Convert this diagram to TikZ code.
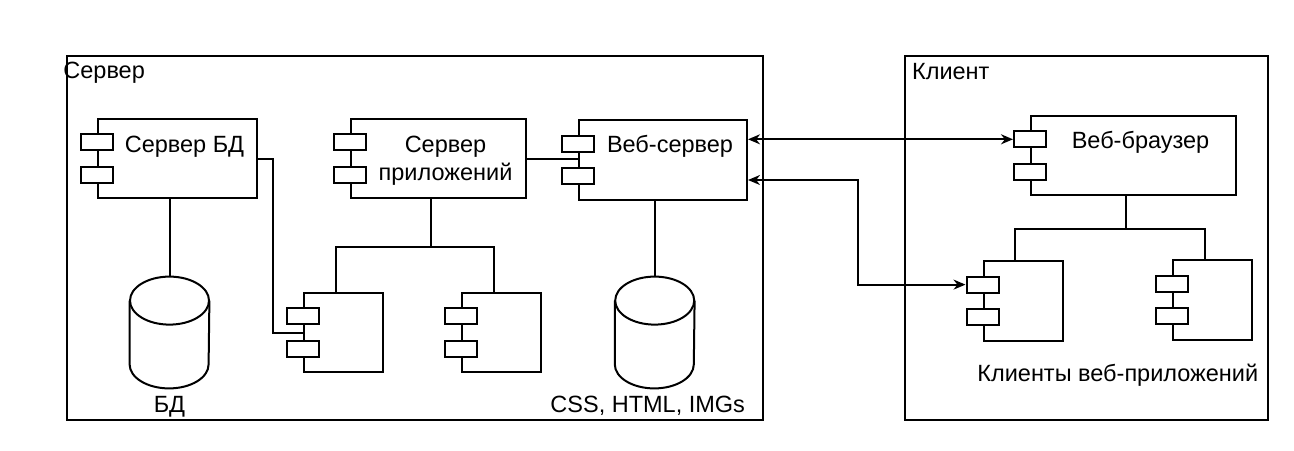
\documentclass[tikz,border=0pt]{standalone}
\usepackage{fontspec}
\setmainfont{Liberation Sans}
\usetikzlibrary{arrows.meta,calc}
\tikzset{>={Stealth[length=6pt,width=5pt]}}
\tikzset{%
    txt/.style={font=\fontsize{11.75}{14}\selectfont, inner sep=0pt},
    frame/.style={draw, line width=1pt, inner sep=0pt},
    comp/.style={draw, line width=1pt, inner sep=0pt},
    port/.style={draw, line width=1pt, fill=white, inner sep=0pt, minimum width=16pt, minimum height=8pt},
    cylbox/.style={inner sep=0pt, minimum width=39.5pt, minimum height=55.5pt},
    wire/.style={line width=1pt}
}

\begin{document}
\begin{tikzpicture}[x=0.5pt,y=-0.5pt]
    \useasboundingbox (0,0) rectangle (1294,450);
    % frames
    \node[frame, minimum width=348pt, minimum height=182pt] (srv) at (415,238) {};
    \node[frame, minimum width=181.5pt, minimum height=182pt] (cli) at (1086.5,238) {};
    \node[txt, anchor=base west] (srvT) at ([xshift=-1.5pt,yshift=-11.75pt]srv.north west) {Сервер};
    \node[txt, anchor=base west] (cliT) at ([xshift=3.85pt,yshift=-12pt]cli.north west) {Клиент};
    % components
    \node[comp, minimum width=79.5pt, minimum height=39.5pt] (bd) at (177.5,158.5) {};
    \node[comp, minimum width=87.5pt, minimum height=39.5pt] (app) at (438.5,158.5) {};
    \node[comp, minimum width=84pt, minimum height=40pt] (web) at (663,160) {};
    \node[comp, minimum width=39.5pt, minimum height=39.5pt] (ac) at (343.5,332.5) {};
    \node[comp, minimum width=39.5pt, minimum height=39.5pt] (ad) at (501.5,332.5) {};
    \node[comp, minimum width=102.5pt, minimum height=39.5pt] (br) at (1133.5,155.5) {};
    \node[comp, minimum width=39.5pt, minimum height=40pt] (wa) at (1023,301) {};
    \node[comp, minimum width=39.5pt, minimum height=40pt] (wb) at (1212.5,300) {};
    \foreach \c in {bd,app,web,ac,ad,br,wa,wb} {
        \node[port] (\c-a) at ($(\c.north west)!0.3!(\c.south west)$) {};
        \node[port] (\c-b) at ($(\c.north west)!0.7!(\c.south west)$) {};
    }
    \node[txt, anchor=base] (bdT) at ([xshift=3.5pt,yshift=-17pt]bd.north) {Сервер БД};
    \node[txt, anchor=base, align=center] (appT) at ([xshift=3.5pt,yshift=-31pt]app.north) {Сервер\\приложений};
    \node[txt, anchor=base] (webT) at ([xshift=3.5pt,yshift=-16.5pt]web.north) {Веб-сервер};
    \node[txt, anchor=base] (brT) at ([xshift=3.5pt,yshift=-16.5pt]br.north) {Веб-браузер};
    % storages
    \node[cylbox] (db) at (169.5,332.5) {};
    \node[cylbox] (files) at (654.7,332.5) {};
    \foreach \s in {db,files} {
        \draw[wire] ([yshift=-12pt]\s.north west) -- ([yshift=12pt]\s.south west)
            arc[start angle=180, end angle=360, x radius=19.75pt, y radius=12pt]
            -- ([yshift=-12pt]\s.north east);
        \draw[wire] ([yshift=-12pt]\s.north) ellipse [x radius=19.75pt, y radius=12pt];
    }
    \node[txt, anchor=base] (dbT) at ([yshift=-12pt]db.south) {БД};
    \node[txt, anchor=base] (filesT) at ([xshift=-3.5pt,yshift=-12pt]files.south) {CSS, HTML, IMGs};
    \node[txt, anchor=base west] (waT) at (977,381) {Клиенты веб-приложений};
    % links
    \draw[wire] (db.north) -- (db.north |- bd.south);
    \draw[wire] (files.north) -- (files.north |- web.south);
    \draw[wire] (bd.east) -- ++(15,0) |- (ac.west);
    \draw[wire] (app.east) -- (app.east -| web.west);
    \coordinate (appJ) at ([xshift=-4pt,yshift=-24pt]app.south);
    \draw[wire] ([xshift=-4pt]app.south) -- (appJ);
    \draw[wire] ([xshift=-4pt]ac.north) |- (appJ) -| ([xshift=-4pt]ad.north);
    \coordinate (brJ) at ([xshift=-4pt,yshift=-16.5pt]br.south);
    \draw[wire] ([xshift=-4pt]br.south) -- (brJ);
    \draw[wire] ([xshift=-4pt]wa.north) |- (brJ) -| ([xshift=-4pt]wb.north);
    \draw[wire,<->] (web.east |- br-a) -- (br-a.west);
    \draw[wire,<->] ([yshift=-10pt]web.east) -- ++(110,0) |- (wa-a.west);
\end{tikzpicture}
\end{document}
